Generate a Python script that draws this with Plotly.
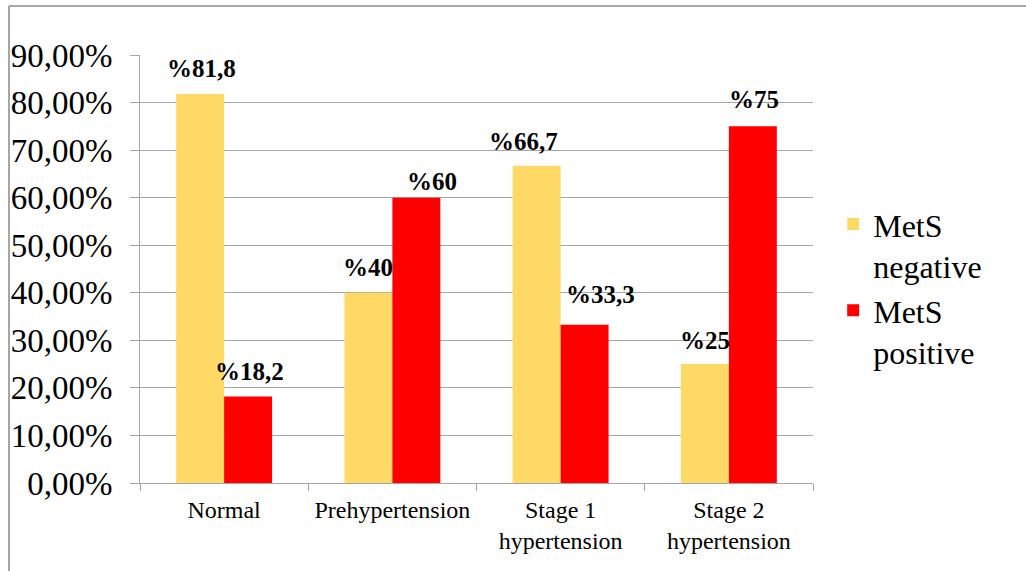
import plotly.graph_objects as go

# Blood pressure categories and share of MetS status within each (%)
categories = ["Normal", "Prehypertension", "Stage 1<br>hypertension", "Stage 2<br>hypertension"]
mets_negative = [81.8, 40, 66.7, 25]
mets_positive = [18.2, 60, 33.3, 75]
series_names = ["MetS<br>negative", "MetS<br>positive"]
y_ticks = [0, 10, 20, 30, 40, 50, 60, 70, 80, 90]
y_tick_text = [f"{v:.2f}".replace(".", ",") + "%" for v in y_ticks]

COLOR_NEG = "#FFD966"
COLOR_POS = "#FF0000"
GRID = "#A6A6A6"
SERIF = "Liberation Serif"


def pct_label(v):
    s = f"{v:g}".replace(".", ",")
    return "%" + s


fig = go.Figure()
fig.add_trace(go.Bar(x=categories, y=mets_negative, name=series_names[0],
                     marker=dict(color=COLOR_NEG, line=dict(width=0))))
fig.add_trace(go.Bar(x=categories, y=mets_positive, name=series_names[1],
                     marker=dict(color=COLOR_POS, line=dict(width=0))))

# Value labels above each bar (horizontal nudges keep them clear of neighbours)
neg_shift = [-23, -24, -37, -24]
pos_shift = [25, 40, 40, 25]
neg_lift = [10, 10, 9, 8]
pos_lift = [9, 1, 15, 11]
annotations = []
for i, cat in enumerate(categories):
    for vals, shifts, lifts in ((mets_negative, neg_shift, neg_lift),
                                (mets_positive, pos_shift, pos_lift)):
        annotations.append(dict(
            x=cat, y=vals[i], xref="x", yref="y",
            text="<b>" + pct_label(vals[i]) + "</b>",
            showarrow=False, yanchor="bottom",
            xshift=shifts[i], yshift=lifts[i],
            font=dict(family=SERIF, size=25, color="#000000"),
        ))

frame_left = -131 / 673
frame_top = (428 + 55 - 6) / 428

fig.update_layout(
    width=1026, height=571,
    margin=dict(l=140, r=213, t=55, b=88),
    paper_bgcolor="white", plot_bgcolor="white",
    font=dict(family=SERIF, color="#000000"),
    barmode="group", bargap=0.43, bargroupgap=0,
    annotations=annotations,
    showlegend=True,
    legend=dict(
        x=1.03, y=0.455, xanchor="left", yanchor="middle",
        font=dict(family=SERIF, size=32, color="#000000"),
        valign="top", tracegroupgap=0,
        bgcolor="rgba(0,0,0,0)",
    ),
    shapes=[
        dict(type="line", xref="paper", yref="paper",
             x0=frame_left, x1=2, y0=frame_top, y1=frame_top,
             line=dict(color="#A6A6A6", width=2)),
        dict(type="line", xref="paper", yref="paper",
             x0=frame_left, x1=frame_left, y0=-1, y1=frame_top,
             line=dict(color="#A6A6A6", width=2)),
    ],
)

fig.update_yaxes(
    range=[0, 90], tickvals=y_ticks, ticktext=y_tick_text,
    showgrid=True, gridcolor=GRID, gridwidth=1,
    showline=True, linecolor=GRID, linewidth=1,
    ticks="outside", ticklen=9, tickcolor=GRID,
    ticklabelstandoff=11,
    tickfont=dict(family=SERIF, size=33, color="#000000"),
    zeroline=False,
)
fig.update_xaxes(
    showline=True, linecolor=GRID, linewidth=1,
    ticks="outside", ticklen=7, tickcolor=GRID, tickson="boundaries",
    tickfont=dict(family=SERIF, size=24, color="#000000"),
    ticklabelstandoff=5,
)

fig.write_html("out.html")
